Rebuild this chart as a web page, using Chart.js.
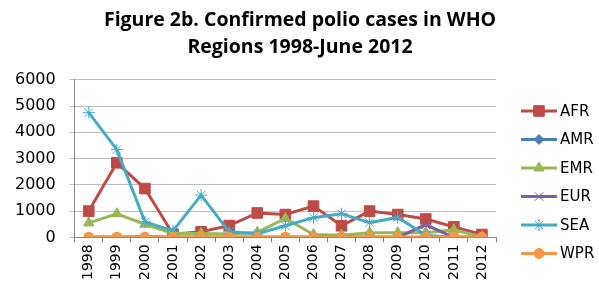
<!DOCTYPE html>
<html lang="en">
<head>
  <meta charset="UTF-8">
  <title>Confirmed polio cases in WHO Regions</title>
  <script src="https://cdn.jsdelivr.net/npm/chart.js"></script>
  <style>
    html, body { margin: 0; padding: 0; background: #fff; }
    #wrap { width: 599px; height: 286px; }
  </style>
</head>
<body>
  <div id="wrap"><canvas id="polioChart" width="599" height="286"></canvas></div>

  <script>
    // values (cases per year)
    const years = ['1998', '1999', '2000', '2001', '2002', '2003', '2004', '2005',
                   '2006', '2007', '2008', '2009', '2010', '2011', '2012'];
    const afr = [1000, 2840, 1860, 120, 210, 450, 930, 870, 1190, 440, 1000, 870, 700, 400, 110];
    const amr = [0, 0, 20, 0, 0, 0, 0, 0, 0, 0, 0, 0, 0, 0, 0];
    const emr = [550, 900, 500, 150, 150, 130, 190, 720, 110, 80, 180, 180, 180, 290, 20];
    const eur = [0, 0, 0, 0, 0, 0, 0, 0, 0, 0, 0, 0, 480, 0, 0];
    const sea = [4750, 3340, 590, 250, 1610, 210, 140, 440, 750, 900, 560, 760, 80, 0, 0];
    const wpr = [0, 0, 0, 0, 0, 0, 0, 0, 0, 0, 0, 0, 0, 20, 0];
    const yTicks = [0, 1000, 2000, 3000, 4000, 5000, 6000];

    const series = [
      { label: 'AFR', data: afr, color: '#BE4B48', style: 'rect', r: 7.5 },
      { label: 'AMR', data: amr, color: '#4A7EBB', style: 'rectRot', r: 5 },
      { label: 'EMR', data: emr, color: '#98B954', style: 'triangle', r: 6 },
      { label: 'EUR', data: eur, color: '#7D60A0', style: 'crossRot', r: 6 },
      { label: 'SEA', data: sea, color: '#46AAC5', style: 'star', r: 6 },
      { label: 'WPR', data: wpr, color: '#F79646', style: 'circle', r: 5 }
    ];

    // legend on the right: a short line with the marker in the middle
    const sideLegend = {
      id: 'sideLegend',
      afterDraw(chart) {
        const ctx = chart.ctx;
        ctx.save();
        chart.data.datasets.forEach((ds, i) => {
          const y = 111 + i * 28.5;
          ctx.strokeStyle = ds.borderColor;
          ctx.lineWidth = 3;
          ctx.beginPath();
          ctx.moveTo(521, y);
          ctx.lineTo(557, y);
          ctx.stroke();
          ctx.fillStyle = ds.pointBackgroundColor;
          ctx.strokeStyle = ds.pointBorderColor;
          ctx.lineWidth = 1;
          Chart.helpers.drawPoint(ctx, { pointStyle: ds.pointStyle, radius: ds.pointRadius, rotation: 0, borderWidth: 1 }, 539, y);
          ctx.fillStyle = '#000';
          ctx.font = '15px "DejaVu Sans"';
          ctx.textBaseline = 'middle';
          ctx.fillText(ds.label, 560, y + 1);
        });
        ctx.restore();
      }
    };

    const ctx = document.getElementById('polioChart').getContext('2d');
    new Chart(ctx, {
      type: 'line',
      data: {
        labels: years,
        datasets: series.map((s, i) => ({
          label: s.label,
          data: s.data,
          borderColor: s.color,
          backgroundColor: s.color,
          pointBackgroundColor: s.color,
          pointBorderColor: s.color,
          pointStyle: s.style,
          pointRadius: s.r,
          pointBorderWidth: 1,
          borderWidth: 3,
          tension: 0,
          order: series.length - i
        }))
      },
      options: {
        responsive: false,
        animation: false,
        layout: { padding: { left: 1, right: 0, top: 4, bottom: 4 } },
        plugins: {
          legend: { display: false },
          tooltip: { enabled: false },
          title: {
            display: true,
            text: ['Figure 2b. Confirmed polio cases in WHO', 'Regions 1998-June 2012'],
            color: '#000',
            font: { family: '"Open Sans"', size: 19.5, weight: 'bold', lineHeight: 1.38 },
            padding: { top: 3, bottom: 19 }
          }
        },
        scales: {
          x: {
            offset: true,
            grid: { offset: true, drawOnChartArea: false, drawTicks: true, tickLength: 5, color: '#888' },
            border: { color: '#888' },
            ticks: {
              color: '#000',
              font: { family: '"DejaVu Sans"', size: 14 },
              maxRotation: 90, minRotation: 90, padding: 2
            }
          },
          y: {
            min: 0,
            max: 6000,
            afterBuildTicks: axis => { axis.ticks = yTicks.map(v => ({ value: v })); },
            grid: { color: '#BEBEBE', tickLength: 5 },
            border: { color: '#888' },
            ticks: {
              color: '#000',
              font: { family: '"DejaVu Sans"', size: 16 },
              padding: 14,
              callback: v => String(v)
            }
          },
          // empty strip on the right that holds the legend
          legendSpace: {
            position: 'right',
            min: 0,
            max: 1,
            grid: { display: false },
            border: { display: false },
            ticks: { display: false },
            afterFit: s => { s.width = 103; }
          }
        }
      },
      plugins: [sideLegend]
    });
  </script>
</body>
</html>
